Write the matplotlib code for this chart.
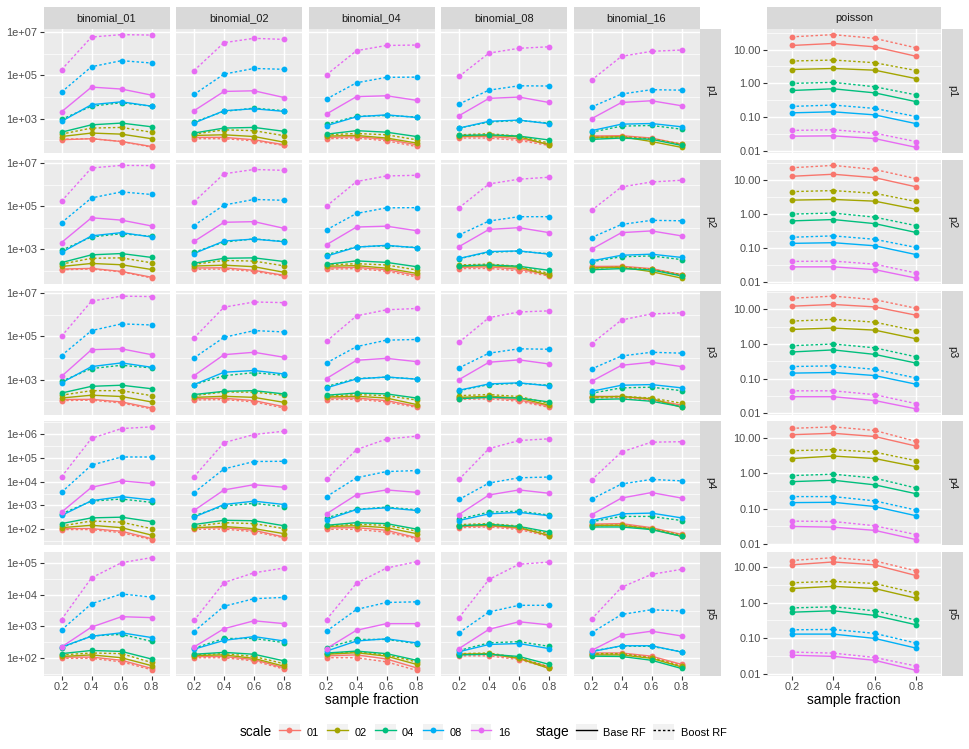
import numpy as np
import matplotlib.pyplot as plt
from matplotlib.lines import Line2D
from matplotlib.patches import Rectangle
from matplotlib.legend_handler import HandlerTuple
from matplotlib.ticker import FixedLocator, NullFormatter

plt.rcParams['font.family'] = ['Liberation Sans', 'DejaVu Sans']

fractions = ['0.2', '0.4', '0.6', '0.8']
scales = ['01', '02', '04', '08', '16']
stages = ['Base RF', 'Boost RF']
dists = ['binomial_01', 'binomial_02', 'binomial_04', 'binomial_08', 'binomial_16', 'poisson']
p_levels = ['p1', 'p2', 'p3', 'p4', 'p5']
colors = ['#F8766D', '#A3A500', '#00BF7D', '#00B0F6', '#E76BF3']

# log10 of the error, one row per scale (01, 02, 04, 08, 16), one column per sample fraction
b01_p1_base = [[2.03, 2.08, 1.95, 1.72], [2.18, 2.34, 2.29, 2.08], [2.38, 2.72, 2.80, 2.63], [2.88, 3.65, 3.78, 3.58], [3.32, 4.46, 4.37, 4.09]]
b01_p1_boost = [[2.06, 2.08, 1.95, 1.69], [2.29, 2.57, 2.60, 2.38], [2.97, 3.58, 3.74, 3.58], [4.23, 5.40, 5.68, 5.57], [5.26, 6.77, 6.88, 6.86]]
b02_p1_base = [[2.14, 2.14, 2.03, 1.80], [2.23, 2.26, 2.18, 1.92], [2.34, 2.57, 2.60, 2.42], [2.80, 3.37, 3.46, 3.34], [3.37, 4.26, 4.29, 3.98]]
b02_p1_boost = [[2.08, 2.08, 1.98, 1.77], [2.29, 2.49, 2.45, 2.22], [2.85, 3.34, 3.49, 3.37], [4.12, 5.06, 5.32, 5.28], [5.22, 6.51, 6.71, 6.66]]
b04_p1_base = [[2.14, 2.17, 2.05, 1.80], [2.20, 2.23, 2.11, 1.88], [2.29, 2.45, 2.38, 2.18], [2.68, 3.09, 3.18, 3.06], [3.22, 4.02, 4.06, 3.85]]
b04_p1_boost = [[2.08, 2.11, 1.98, 1.72], [2.26, 2.32, 2.26, 2.03], [2.75, 3.11, 3.15, 3.08], [3.91, 4.66, 4.91, 4.92], [5.03, 6.14, 6.38, 6.40]]
b08_p1_base = [[2.17, 2.18, 2.08, 1.83], [2.20, 2.23, 2.17, 1.80], [2.23, 2.26, 2.20, 2.02], [2.57, 2.88, 2.94, 2.77], [3.14, 3.94, 4.00, 3.75]]
b08_p1_boost = [[2.11, 2.11, 2.00, 1.77], [2.26, 2.31, 2.20, 1.88], [2.57, 2.85, 2.92, 2.80], [3.68, 4.32, 4.52, 4.51], [4.95, 6.03, 6.25, 6.32]]
b16_p1_base = [[2.20, 2.22, 2.11, 1.83], [2.14, 2.17, 1.95, 1.68], [2.05, 2.11, 2.05, 1.77], [2.45, 2.75, 2.78, 2.63], [3.00, 3.75, 3.83, 3.60]]
b16_p1_boost = [[2.18, 2.18, 2.08, 1.80], [2.11, 2.17, 2.08, 1.83], [2.38, 2.66, 2.69, 2.52], [3.54, 4.14, 4.34, 4.32], [4.78, 5.88, 6.11, 6.17]]

b01_p2_base = [[2.08, 2.11, 1.97, 1.70], [2.20, 2.34, 2.28, 2.06], [2.38, 2.74, 2.80, 2.62], [2.85, 3.62, 3.77, 3.57], [3.31, 4.46, 4.35, 4.08]]
b01_p2_boost = [[2.05, 2.08, 1.95, 1.67], [2.31, 2.58, 2.60, 2.37], [2.95, 3.57, 3.72, 3.60], [4.23, 5.38, 5.66, 5.54], [5.23, 6.77, 6.89, 6.88]]
b02_p2_base = [[2.13, 2.14, 2.02, 1.79], [2.22, 2.26, 2.19, 1.93], [2.35, 2.58, 2.60, 2.43], [2.80, 3.38, 3.47, 3.35], [3.36, 4.25, 4.28, 3.97]]
b02_p2_boost = [[2.07, 2.08, 1.97, 1.76], [2.30, 2.48, 2.45, 2.23], [2.86, 3.33, 3.48, 3.36], [4.10, 5.05, 5.31, 5.27], [5.20, 6.50, 6.70, 6.66]]
b04_p2_base = [[2.13, 2.16, 2.05, 1.79], [2.21, 2.24, 2.12, 1.88], [2.30, 2.46, 2.39, 2.19], [2.68, 3.10, 3.18, 3.07], [3.21, 4.03, 4.07, 3.86]]
b04_p2_boost = [[2.07, 2.10, 1.98, 1.72], [2.27, 2.33, 2.27, 2.04], [2.75, 3.11, 3.16, 3.08], [3.90, 4.66, 4.92, 4.93], [5.00, 6.14, 6.40, 6.43]]
b08_p2_base = [[2.16, 2.18, 2.07, 1.82], [2.21, 2.24, 2.16, 1.80], [2.23, 2.27, 2.21, 2.02], [2.57, 2.89, 2.92, 2.77], [3.12, 3.92, 4.00, 3.77]]
b08_p2_boost = [[2.10, 2.11, 2.00, 1.76], [2.27, 2.31, 2.21, 1.88], [2.56, 2.86, 2.91, 2.79], [3.66, 4.31, 4.51, 4.51], [4.92, 6.03, 6.25, 6.34]]
b16_p2_base = [[2.20, 2.21, 2.10, 1.82], [2.14, 2.16, 1.96, 1.66], [2.05, 2.10, 2.04, 1.76], [2.46, 2.72, 2.77, 2.62], [3.00, 3.77, 3.85, 3.62]]
b16_p2_boost = [[2.18, 2.18, 2.07, 1.79], [2.12, 2.17, 2.07, 1.82], [2.42, 2.65, 2.69, 2.52], [3.54, 4.15, 4.34, 4.32], [4.80, 5.89, 6.12, 6.20]]

b01_p3_base = [[2.08, 2.09, 1.97, 1.69], [2.15, 2.28, 2.22, 1.97], [2.38, 2.69, 2.74, 2.58], [2.85, 3.60, 3.77, 3.57], [3.15, 4.38, 4.42, 4.15]]
b01_p3_boost = [[2.03, 2.05, 1.92, 1.65], [2.28, 2.49, 2.49, 2.26], [2.92, 3.51, 3.66, 3.54], [4.11, 5.26, 5.57, 5.52], [5.00, 6.62, 6.85, 6.83]]
b02_p3_base = [[2.12, 2.14, 2.03, 1.75], [2.18, 2.23, 2.18, 1.95], [2.31, 2.46, 2.49, 2.34], [2.77, 3.34, 3.42, 3.26], [3.18, 4.15, 4.26, 4.03]]
b02_p3_boost = [[2.06, 2.08, 1.97, 1.69], [2.26, 2.43, 2.42, 2.28], [2.77, 3.18, 3.32, 3.20], [4.00, 4.95, 5.26, 5.20], [4.92, 6.34, 6.58, 6.55]]
b04_p3_base = [[2.15, 2.15, 2.03, 1.77], [2.20, 2.23, 2.15, 1.85], [2.28, 2.38, 2.34, 2.15], [2.62, 3.03, 3.12, 3.02], [3.05, 3.89, 3.98, 3.83]]
b04_p3_boost = [[2.08, 2.09, 1.97, 1.72], [2.23, 2.31, 2.26, 2.06], [2.68, 3.05, 3.11, 3.03], [3.77, 4.52, 4.82, 4.85], [4.77, 5.94, 6.22, 6.28]]
b08_p3_base = [[2.15, 2.18, 2.06, 1.78], [2.18, 2.23, 2.15, 1.82], [2.12, 2.18, 2.15, 1.97], [2.51, 2.80, 2.85, 2.71], [3.00, 3.80, 3.91, 3.72]]
b08_p3_boost = [[2.09, 2.11, 2.00, 1.72], [2.26, 2.31, 2.22, 1.91], [2.49, 2.77, 2.83, 2.74], [3.54, 4.22, 4.42, 4.40], [4.72, 5.86, 6.12, 6.17]]
b16_p3_base = [[2.23, 2.22, 2.08, 1.82], [2.20, 2.22, 2.12, 1.72], [2.08, 2.11, 2.00, 1.75], [2.46, 2.74, 2.77, 2.62], [2.92, 3.66, 3.80, 3.60]]
b16_p3_boost = [[2.15, 2.17, 2.03, 1.78], [2.18, 2.23, 2.15, 1.91], [2.37, 2.62, 2.65, 2.49], [3.49, 4.09, 4.26, 4.22], [4.65, 5.75, 6.03, 6.08]]

b01_p4_base = [[2.03, 2.03, 1.92, 1.61], [2.07, 2.17, 2.07, 1.76], [2.24, 2.48, 2.51, 2.32], [2.58, 3.20, 3.37, 3.23], [2.72, 3.76, 4.03, 3.92]]
b01_p4_boost = [[1.99, 1.99, 1.86, 1.57], [2.14, 2.35, 2.30, 2.03], [2.65, 3.18, 3.27, 3.13], [3.55, 4.69, 5.03, 5.03], [4.20, 5.81, 6.22, 6.29]]
b02_p4_base = [[2.06, 2.07, 1.96, 1.68], [2.07, 2.12, 2.03, 1.82], [2.20, 2.38, 2.36, 2.15], [2.51, 3.04, 3.18, 3.04], [2.79, 3.65, 3.87, 3.76]]
b02_p4_boost = [[2.00, 2.01, 1.90, 1.65], [2.12, 2.28, 2.24, 2.03], [2.57, 2.98, 3.09, 2.95], [3.54, 4.53, 4.84, 4.85], [4.20, 5.63, 5.97, 6.11]]
b04_p4_base = [[2.06, 2.07, 1.96, 1.65], [2.12, 2.15, 2.07, 1.82], [2.17, 2.28, 2.24, 2.01], [2.40, 2.83, 2.90, 2.79], [2.65, 3.45, 3.65, 3.55]]
b04_p4_boost = [[2.00, 2.00, 1.88, 1.61], [2.14, 2.21, 2.17, 1.93], [2.48, 2.84, 2.93, 2.82], [3.37, 4.16, 4.42, 4.46], [4.10, 5.34, 5.78, 5.90]]
b08_p4_base = [[2.12, 2.15, 2.04, 1.76], [2.15, 2.17, 2.08, 1.74], [2.15, 2.21, 2.12, 1.89], [2.37, 2.65, 2.71, 2.57], [2.62, 3.44, 3.65, 3.51]]
b08_p4_boost = [[2.07, 2.10, 1.99, 1.71], [2.20, 2.24, 2.14, 1.82], [2.43, 2.72, 2.76, 2.60], [3.25, 3.94, 4.16, 4.19], [4.09, 5.38, 5.72, 5.79]]
b16_p4_base = [[2.22, 2.24, 2.07, 1.79], [2.17, 2.17, 2.01, 1.71], [2.10, 2.10, 1.99, 1.71], [2.37, 2.65, 2.68, 2.48], [2.61, 3.31, 3.54, 3.31]]
b16_p4_boost = [[2.17, 2.18, 2.03, 1.74], [2.15, 2.17, 2.03, 1.76], [2.32, 2.54, 2.54, 2.37], [3.26, 3.90, 4.09, 4.03], [4.06, 5.24, 5.65, 5.67]]

b01_p5_base = [[2.03, 2.03, 1.93, 1.67], [2.05, 2.10, 2.01, 1.76], [2.14, 2.24, 2.21, 1.97], [2.35, 2.69, 2.80, 2.65], [2.35, 2.98, 3.31, 3.28]]
b01_p5_boost = [[1.99, 1.99, 1.88, 1.63], [2.10, 2.16, 2.14, 1.86], [2.33, 2.70, 2.75, 2.53], [2.89, 3.72, 4.03, 3.93], [3.22, 4.54, 5.02, 5.18]]
b02_p5_base = [[2.05, 2.05, 1.95, 1.69], [2.08, 2.10, 1.99, 1.74], [2.12, 2.18, 2.12, 1.91], [2.28, 2.56, 2.68, 2.54], [2.35, 2.93, 3.18, 3.09]]
b02_p5_boost = [[2.01, 2.01, 1.91, 1.65], [2.10, 2.14, 2.05, 1.82], [2.31, 2.62, 2.62, 2.49], [2.84, 3.64, 3.88, 3.92], [3.19, 4.39, 4.70, 4.85]]
b04_p5_base = [[2.07, 2.10, 1.97, 1.69], [2.12, 2.17, 2.06, 1.80], [2.16, 2.22, 2.14, 1.93], [2.22, 2.54, 2.61, 2.48], [2.30, 2.88, 3.09, 3.09]]
b04_p5_boost = [[2.01, 2.01, 1.88, 1.61], [2.14, 2.20, 2.10, 1.88], [2.33, 2.59, 2.59, 2.46], [2.85, 3.54, 3.76, 3.78], [3.22, 4.37, 4.85, 5.05]]
b08_p5_base = [[2.12, 2.12, 1.99, 1.72], [2.12, 2.14, 1.99, 1.67], [2.10, 2.12, 2.05, 1.80], [2.20, 2.43, 2.46, 2.30], [2.30, 2.91, 3.15, 3.05]]
b08_p5_boost = [[2.07, 2.07, 1.95, 1.69], [2.14, 2.16, 2.01, 1.72], [2.24, 2.48, 2.52, 2.37], [2.80, 3.46, 3.67, 3.67], [3.28, 4.49, 4.97, 5.04]]
b16_p5_base = [[2.16, 2.16, 2.06, 1.80], [2.10, 2.10, 1.99, 1.72], [2.06, 2.05, 1.93, 1.67], [2.20, 2.39, 2.39, 2.19], [2.24, 2.72, 2.85, 2.70]]
b16_p5_boost = [[2.12, 2.12, 2.03, 1.78], [2.14, 2.14, 2.01, 1.74], [2.22, 2.38, 2.37, 2.20], [2.80, 3.38, 3.53, 3.49], [3.23, 4.24, 4.65, 4.81]]

pois_p1_base = [[1.12, 1.18, 1.08, 0.80], [0.41, 0.44, 0.39, 0.14], [-0.21, -0.16, -0.28, -0.54], [-0.87, -0.84, -0.93, -1.19], [-1.56, -1.55, -1.63, -1.89]]
pois_p1_boost = [[1.375, 1.44, 1.33, 1.05], [0.66, 0.69, 0.61, 0.38], [0.00, 0.03, -0.10, -0.34], [-0.68, -0.64, -0.74, -0.98], [-1.39, -1.37, -1.47, -1.72]]
pois_p2_base = [[1.11, 1.17, 1.07, 0.80], [0.41, 0.43, 0.38, 0.14], [-0.20, -0.16, -0.28, -0.54], [-0.86, -0.84, -0.93, -1.19], [-1.55, -1.55, -1.63, -1.88]]
pois_p2_boost = [[1.36, 1.43, 1.31, 1.04], [0.66, 0.69, 0.61, 0.37], [0.00, 0.03, -0.09, -0.34], [-0.68, -0.64, -0.74, -0.98], [-1.39, -1.38, -1.47, -1.73]]
pois_p3_base = [[1.09, 1.14, 1.07, 0.83], [0.42, 0.46, 0.40, 0.15], [-0.23, -0.17, -0.30, -0.55], [-0.84, -0.82, -0.91, -1.16], [-1.52, -1.52, -1.63, -1.87]]
pois_p3_boost = [[1.32, 1.38, 1.28, 1.03], [0.66, 0.71, 0.63, 0.38], [-0.05, 0.00, -0.11, -0.37], [-0.65, -0.63, -0.73, -0.98], [-1.35, -1.35, -1.46, -1.72]]
pois_p4_base = [[1.08, 1.12, 1.03, 0.76], [0.41, 0.48, 0.41, 0.18], [-0.24, -0.20, -0.33, -0.58], [-0.83, -0.82, -0.94, -1.20], [-1.50, -1.52, -1.61, -1.87]]
pois_p4_boost = [[1.26, 1.30, 1.20, 0.89], [0.63, 0.66, 0.59, 0.35], [-0.07, -0.03, -0.14, -0.42], [-0.66, -0.66, -0.78, -1.04], [-1.35, -1.36, -1.48, -1.73]]
pois_p5_base = [[1.05, 1.13, 1.05, 0.75], [0.39, 0.45, 0.39, 0.12], [-0.27, -0.23, -0.36, -0.62], [-0.88, -0.88, -1.00, -1.27], [-1.47, -1.50, -1.61, -1.89]]
pois_p5_boost = [[1.17, 1.25, 1.16, 0.88], [0.55, 0.59, 0.53, 0.26], [-0.15, -0.12, -0.23, -0.49], [-0.76, -0.75, -0.86, -1.13], [-1.38, -1.41, -1.53, -1.77]]

panels = {
    ('binomial_01', 'p1'): (b01_p1_base, b01_p1_boost), ('binomial_02', 'p1'): (b02_p1_base, b02_p1_boost),
    ('binomial_04', 'p1'): (b04_p1_base, b04_p1_boost), ('binomial_08', 'p1'): (b08_p1_base, b08_p1_boost),
    ('binomial_16', 'p1'): (b16_p1_base, b16_p1_boost), ('poisson', 'p1'): (pois_p1_base, pois_p1_boost),
    ('binomial_01', 'p2'): (b01_p2_base, b01_p2_boost), ('binomial_02', 'p2'): (b02_p2_base, b02_p2_boost),
    ('binomial_04', 'p2'): (b04_p2_base, b04_p2_boost), ('binomial_08', 'p2'): (b08_p2_base, b08_p2_boost),
    ('binomial_16', 'p2'): (b16_p2_base, b16_p2_boost), ('poisson', 'p2'): (pois_p2_base, pois_p2_boost),
    ('binomial_01', 'p3'): (b01_p3_base, b01_p3_boost), ('binomial_02', 'p3'): (b02_p3_base, b02_p3_boost),
    ('binomial_04', 'p3'): (b04_p3_base, b04_p3_boost), ('binomial_08', 'p3'): (b08_p3_base, b08_p3_boost),
    ('binomial_16', 'p3'): (b16_p3_base, b16_p3_boost), ('poisson', 'p3'): (pois_p3_base, pois_p3_boost),
    ('binomial_01', 'p4'): (b01_p4_base, b01_p4_boost), ('binomial_02', 'p4'): (b02_p4_base, b02_p4_boost),
    ('binomial_04', 'p4'): (b04_p4_base, b04_p4_boost), ('binomial_08', 'p4'): (b08_p4_base, b08_p4_boost),
    ('binomial_16', 'p4'): (b16_p4_base, b16_p4_boost), ('poisson', 'p4'): (pois_p4_base, pois_p4_boost),
    ('binomial_01', 'p5'): (b01_p5_base, b01_p5_boost), ('binomial_02', 'p5'): (b02_p5_base, b02_p5_boost),
    ('binomial_04', 'p5'): (b04_p5_base, b04_p5_boost), ('binomial_08', 'p5'): (b08_p5_base, b08_p5_boost),
    ('binomial_16', 'p5'): (b16_p5_base, b16_p5_boost), ('poisson', 'p5'): (pois_p5_base, pois_p5_boost),
}

# y breaks (log10) and their labels
binom_breaks = {'p1': [3, 5, 7], 'p2': [3, 5, 7], 'p3': [3, 5, 7], 'p4': [2, 3, 4, 5, 6], 'p5': [2, 3, 4, 5]}
pois_breaks = [-2, -1, 0, 1]
pois_labels = ['0.01', '0.10', '1.00', '10.00']

# figure layout in pixels
W, H = 969, 749
fig = plt.figure(figsize=(W / 100, H / 100), dpi=100)
fig.patch.set_facecolor('white')

col_left = [43.5, 176, 308.5, 441, 573.5, 767]
col_width = [126, 126, 126, 126, 126, 174]
row_top = [29 + i * 130.75 for i in range(5)]
row_h = 124

TXT = 7.9
def add_px_axes(x, y, w, h):
    return fig.add_axes([x / W, 1 - (y + h) / H, w / W, h / H])

def minor_breaks(breaks, lo, hi):
    step = breaks[1] - breaks[0]
    mids = [b + step / 2 for b in [breaks[0] - step] + breaks]
    return [m for m in mids if lo <= m <= hi]

for i, p in enumerate(p_levels):
    # shared y range for the binomial row, own range for poisson
    binom_vals = np.concatenate([np.ravel(panels[(d, p)]) for d in dists[:5]])
    pois_vals = np.ravel(panels[('poisson', p)])
    for j, d in enumerate(dists):
        ax = add_px_axes(col_left[j], row_top[i], col_width[j], row_h)
        ax.set_facecolor('#EBEBEB')
        base, boost = panels[(d, p)]
        for k in range(len(scales)):
            ax.plot(fractions, 10 ** np.array(base[k]), color=colors[k], lw=1.0, zorder=2)
            ax.plot(fractions, 10 ** np.array(boost[k]), color=colors[k], lw=1.0,
                    dashes=(1.8, 1.6), zorder=2)
        for k in range(len(scales)):
            ax.plot(fractions, 10 ** np.array(base[k]), 'o', color=colors[k], ms=4.2, mew=0, zorder=3)
            ax.plot(fractions, 10 ** np.array(boost[k]), 'o', color=colors[k], ms=4.2, mew=0, zorder=3)

        vals = pois_vals if d == 'poisson' else binom_vals
        lo, hi = vals.min(), vals.max()
        pad = 0.05 * (hi - lo)
        lo, hi = lo - pad, hi + pad
        ax.set_yscale('log')
        ax.set_ylim(10 ** lo, 10 ** hi)
        ax.set_xlim(-0.6, 3.6)

        if d == 'poisson':
            brk, lab = pois_breaks, pois_labels
        else:
            brk = binom_breaks[p]
            lab = ['1e+%02d' % b for b in brk]
        ax.yaxis.set_major_locator(FixedLocator([10.0 ** b for b in brk]))
        ax.set_yticklabels(lab)
        ax.yaxis.set_minor_locator(FixedLocator([10.0 ** m for m in minor_breaks(brk, lo, hi)]))
        ax.yaxis.set_minor_formatter(NullFormatter())

        ax.grid(True, which='major', color='white', lw=1.05)
        ax.grid(True, which='minor', axis='y', color='white', lw=0.5)
        ax.set_axisbelow(True)
        for s in ax.spines.values():
            s.set_visible(False)

        ax.tick_params(which='major', direction='out', length=2.6, width=0.8, color='#333333',
                       labelsize=TXT, labelcolor='#4D4D4D', pad=1.8)
        ax.tick_params(which='minor', length=0)
        if i < 4:
            ax.tick_params(axis='x', length=0, labelbottom=False)
        if j in (1, 2, 3, 4):
            ax.tick_params(axis='y', length=0, labelleft=False)

        # top strips
        if i == 0:
            st = add_px_axes(col_left[j], 7, col_width[j], 21.5)
            st.set_facecolor('#D9D9D9')
            st.set_xticks([]); st.set_yticks([])
            for s in st.spines.values():
                s.set_visible(False)
            st.text(0.5, 0.5, d, ha='center', va='center', fontsize=TXT, color='#1A1A1A',
                    transform=st.transAxes)

    # right strips for binomial block and poisson
    for x0 in (700, 941.5):
        st = add_px_axes(x0, row_top[i], 21, row_h)
        st.set_facecolor('#D9D9D9')
        st.set_xticks([]); st.set_yticks([])
        for s in st.spines.values():
            s.set_visible(False)
        st.text(0.5, 0.5, p, ha='center', va='center', rotation=-90, fontsize=TXT,
                color='#1A1A1A', transform=st.transAxes)

# axis titles
fig.text((43.5 + 699.5) / 2 / W, 1 - 700 / H, 'sample fraction', ha='center', va='center', fontsize=9.9)
fig.text((767 + 941) / 2 / W, 1 - 700 / H, 'sample fraction', ha='center', va='center', fontsize=9.9)

# legends
ly = 1 - 732 / H
key_bg = '#F2F2F2'
scale_handles = [(Rectangle((0, 0), 1, 1, facecolor=key_bg, edgecolor='none'),
                  Line2D([], [], color=c, lw=1.0, marker='o', ms=4.2, mew=0)) for c in colors]
stage_handles = [(Rectangle((0, 0), 1, 1, facecolor=key_bg, edgecolor='none'),
                  Line2D([], [], color='black', lw=1.0)),
                 (Rectangle((0, 0), 1, 1, facecolor=key_bg, edgecolor='none'),
                  Line2D([], [], color='black', lw=1.0, dashes=(1.8, 1.6)))]

fig.text(240 / W, ly, 'scale', ha='left', va='center', fontsize=9.9)
fig.legend(scale_handles, scales, loc='center left', bbox_to_anchor=(279 / W, ly), ncol=5,
           frameon=False, fontsize=TXT, handlelength=1.9, handleheight=1.9, handletextpad=0.6,
           columnspacing=0.75, borderpad=0, borderaxespad=0,
           handler_map={tuple: HandlerTuple(ndivide=1)})
fig.text(536 / W, ly, 'stage', ha='left', va='center', fontsize=9.9)
fig.legend(stage_handles, stages, loc='center left', bbox_to_anchor=(576 / W, ly), ncol=2,
           frameon=False, fontsize=TXT, handlelength=1.9, handleheight=1.9, handletextpad=0.6,
           columnspacing=0.65, borderpad=0, borderaxespad=0,
           handler_map={tuple: HandlerTuple(ndivide=1)})

fig.savefig('out.png', dpi=100)
